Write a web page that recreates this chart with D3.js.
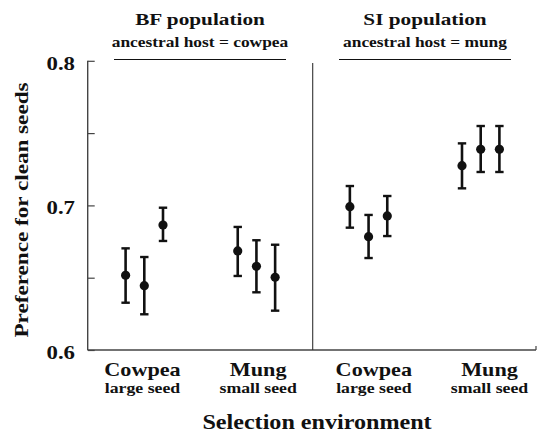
<!DOCTYPE html>
<html>
<head>
<meta charset="utf-8">
<script src="https://cdn.jsdelivr.net/npm/d3@7"></script>
<style>
  body { margin: 0; background: #fff; }
</style>
</head>
<body>
<div id="chart"></div>
<script>
// populations (panels)
const populations = ['BF population', 'SI population']
const ancestral = ['ancestral host = cowpea', 'ancestral host = mung']

// selection environments (4 groups, 2 per panel)
const groups = ['BF-cowpea', 'BF-mung', 'SI-cowpea', 'SI-mung']
const hostLabels = ['Cowpea', 'Mung', 'Cowpea', 'Mung']
const seedLabels = ['large seed', 'small seed', 'large seed', 'small seed']

// three replicate lines per group: mean and error bar ends
const means = [
  [0.6517, 0.6445, 0.6864],
  [0.6685, 0.6579, 0.6503],
  [0.6991, 0.6784, 0.6927],
  [0.7275, 0.7388, 0.7388]
]
const upper = [
  [0.6703, 0.6643, 0.6984],
  [0.6851, 0.6759, 0.6728],
  [0.7134, 0.6934, 0.7065],
  [0.7429, 0.7549, 0.7549]
]
const lower = [
  [0.6327, 0.6247, 0.6754],
  [0.6512, 0.6399, 0.6272],
  [0.6846, 0.6636, 0.6788],
  [0.7118, 0.7231, 0.7231]
]
const replicates = [0, 1, 2]

const yTicks = [0.6, 0.65, 0.7, 0.75, 0.8]
const yTickLabels = ['0.6', '', '0.7', '', '0.8']

const serif = "'Liberation Serif', 'Times New Roman', serif"
const stretch = 1.2   // the original type is set wide

let width = 537, height = 433
let svg = d3.select('#chart').append('svg')
            .attr('width', width)
            .attr('height', height)
            .attr('font-family', serif)
            .attr('font-weight', 'bold')
            .attr('fill', '#111')

let plot = {left: 87.7, right: 537, top: 60.8, bottom: 350}
let mid = 312.7

let y = d3.scaleLinear().domain([0.6, 0.8]).range([plot.bottom, plot.top])
let xGroup = d3.scalePoint().domain(groups).range([144.3, 480.7])
let xRep = d3.scalePoint().domain(replicates).range([-18.7, 18.7])
let xLabel = d3.scalePoint().domain(groups).range([142.5, 489.5])
let xPanel = d3.scalePoint().domain(populations).range([200, 425])

const at = (x, yy) => 'translate(' + x + ',' + yy + ') scale(' + stretch + ',1)'

const data = []
groups.forEach((g, i) => {
  replicates.forEach(r => {
    data.push({ g: g, r: r, m: means[i][r], lo: lower[i][r], hi: upper[i][r] })
  })
})

// y axis with inward ticks
let yAxis = d3.axisRight(y).tickValues(yTicks).tickSize(7).tickFormat('')
let ya = svg.append('g')
   .attr('transform', 'translate(' + plot.left + ',0)')
   .call(yAxis)
ya.select('.domain').remove()
ya.selectAll('.tick line').attr('stroke', '#444').attr('stroke-width', 1.2)

svg.append('line')
   .attr('x1', plot.left).attr('x2', plot.left)
   .attr('y1', plot.top).attr('y2', plot.bottom)
   .attr('stroke', '#444').attr('stroke-width', 1.4)

// x axis line
svg.append('line')
   .attr('x1', plot.left).attr('x2', plot.right - 1)
   .attr('y1', plot.bottom).attr('y2', plot.bottom)
   .attr('stroke', '#444').attr('stroke-width', 1.4)
svg.append('line')
   .attr('x1', plot.right - 1).attr('x2', plot.right - 1)
   .attr('y1', plot.bottom).attr('y2', plot.bottom - 4)
   .attr('stroke', '#444').attr('stroke-width', 1.2)

// divider between populations
svg.append('line')
   .attr('x1', mid).attr('x2', mid)
   .attr('y1', 63).attr('y2', plot.bottom)
   .attr('stroke', '#333').attr('stroke-width', 1.1)

svg.append('g').selectAll('text')
   .data(yTicks.filter((d, i) => yTickLabels[i] !== ''))
   .join('text')
   .attr('transform', d => at(75, y(d) + 9))
   .attr('text-anchor', 'end')
   .attr('font-size', 19)
   .text(d => yTickLabels[yTicks.indexOf(d)])

// panel headers
svg.append('g').selectAll('text')
   .data(populations)
   .join('text')
   .attr('transform', d => at(xPanel(d), 25))
   .attr('text-anchor', 'middle')
   .attr('font-size', 17.7)
   .text(d => d)

svg.append('g').selectAll('text')
   .data(ancestral)
   .join('text')
   .attr('transform', (d, i) => at(xPanel(populations[i]), 47))
   .attr('text-anchor', 'middle')
   .attr('font-size', 14.5)
   .text(d => d)

svg.append('g').selectAll('line')
   .data(populations)
   .join('line')
   .attr('x1', d => xPanel(d) - 86)
   .attr('x2', d => xPanel(d) + 86)
   .attr('y1', 59.5).attr('y2', 59.5)
   .attr('stroke', '#111').attr('stroke-width', 1.2)

// x category labels
svg.append('g').selectAll('text')
   .data(groups)
   .join('text')
   .attr('transform', d => at(xLabel(d), 376))
   .attr('text-anchor', 'middle')
   .attr('font-size', 18.5)
   .text((d, i) => hostLabels[i])

svg.append('g').selectAll('text')
   .data(groups)
   .join('text')
   .attr('transform', d => at(xLabel(d), 393))
   .attr('text-anchor', 'middle')
   .attr('font-size', 14.8)
   .text((d, i) => seedLabels[i])

// axis titles
svg.append('text')
   .attr('transform', at(317, 429))
   .attr('text-anchor', 'middle')
   .attr('font-size', 20.1)
   .text('Selection environment')

svg.append('text')
   .attr('transform', 'translate(28,210) rotate(-90) scale(' + stretch + ',1)')
   .attr('text-anchor', 'middle')
   .attr('font-size', 19.3)
   .text('Preference for clean seeds')

// error bars
let bars = svg.append('g').selectAll('g')
   .data(data)
   .join('g')
   .attr('transform', d => 'translate(' + (xGroup(d.g) + xRep(d.r)) + ',0)')

bars.append('line')
   .attr('y1', d => y(d.lo)).attr('y2', d => y(d.hi))
   .attr('stroke', '#111').attr('stroke-width', 2.6)
bars.append('line')
   .attr('x1', -4.2).attr('x2', 4.2)
   .attr('y1', d => y(d.hi)).attr('y2', d => y(d.hi))
   .attr('stroke', '#111').attr('stroke-width', 2.4)
bars.append('line')
   .attr('x1', -4.2).attr('x2', 4.2)
   .attr('y1', d => y(d.lo)).attr('y2', d => y(d.lo))
   .attr('stroke', '#111').attr('stroke-width', 2.4)
bars.append('circle')
   .attr('cy', d => y(d.m))
   .attr('r', 4.6)
   .attr('fill', '#111')
</script>
</body>
</html>
